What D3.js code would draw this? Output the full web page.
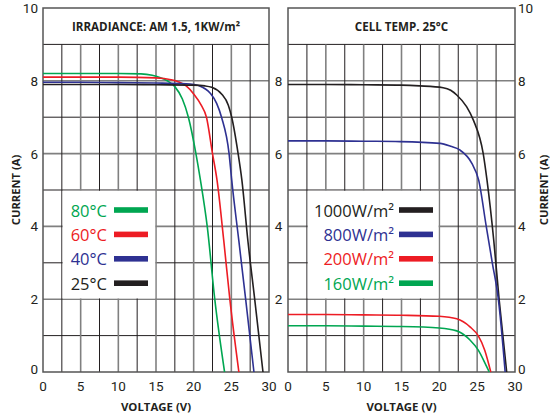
<!DOCTYPE html>
<html><head><meta charset="utf-8">
<script src="https://cdn.jsdelivr.net/npm/d3@7"></script>
<style>body{margin:0;background:#fff}svg{display:block}</style>
</head><body>
<svg id="chart" width="550" height="417"></svg>
<script>
// ---------- data ----------
const voltageTicks = [0, 5, 10, 15, 20, 25, 30];
const currentTicks = [0, 2, 4, 6, 8, 10];

// Left panel: irradiance AM 1.5, 1kW/m², various cell temperatures  [voltage, current]
const temp80 = [[0,8.2],[5,8.2],[10,8.2],[13,8.19],[14.5,8.15],[15.5,8.09],[16.5,8.0],[17.5,7.84],[18.5,7.5],[19.3,7.0],[20.3,6.0],[20.9,5.27],[21.8,4.0],[22.8,2.0],[24.1,0]];
const temp60 = [[0,8.1],[5,8.1],[10,8.1],[15,8.08],[17,8.03],[18,7.97],[19,7.86],[20,7.64],[21,7.33],[21.7,7.0],[22.5,6.0],[23.1,5.27],[24.0,3.6],[24.8,2.0],[26.0,0]];
const temp40 = [[0,7.96],[5,7.96],[10,7.95],[15,7.94],[19,7.92],[20,7.9],[20.8,7.86],[22.2,7.66],[23.05,7.38],[23.7,7.0],[24.7,6.0],[25.05,5.27],[26.0,3.6],[26.9,2.0],[28.0,0]];
const temp25 = [[0,7.9],[5,7.9],[10,7.9],[15,7.89],[20,7.88],[21.5,7.86],[22.4,7.82],[23.7,7.64],[24.6,7.33],[25.05,7.0],[25.9,6.0],[26.4,5.27],[27.2,3.6],[28.1,2.0],[29.2,0]];
const tempLabels = ["80°C", "60°C", "40°C", "25°C"];

// Right panel: cell temp 25°C, various irradiance levels  [voltage, current]
const irr1000 = [[0,7.9],[5,7.9],[10,7.89],[15,7.88],[17.4,7.86],[20.5,7.81],[21.5,7.74],[22.3,7.61],[23.6,7.29],[24.5,6.92],[25.8,6.0],[26.3,5.27],[27.2,3.6],[27.9,2.0],[28.9,0]];
const irr800  = [[0,6.35],[5,6.35],[10,6.34],[14.8,6.33],[20.1,6.28],[21.5,6.2],[22.7,6.1],[24.3,5.73],[25.2,5.27],[26.2,4.0],[27.0,3.0],[27.8,2.0],[28.7,0]];
const irr200  = [[0,1.58],[5,1.58],[10,1.57],[15,1.56],[20,1.53],[22.3,1.46],[24.05,1.24],[25.15,0.99],[26.0,0.6],[26.8,0]];
const irr160  = [[0,1.27],[5,1.27],[10,1.26],[15,1.25],[20,1.21],[22.3,1.13],[24.05,0.88],[25.15,0.6],[26.0,0.26],[26.6,0]];
const irrLabels = ["1000W/m²", "800W/m²", "200W/m²", "160W/m²"];

const headers = ["IRRADIANCE: AM 1.5, 1KW/m²", "CELL TEMP. 25°C"];

// ---------- styles ----------
const seriesColors = ["#00a651", "#ed1c24", "#2e3192", "#231f20"];
const irrColors = ["#231f20", "#2e3192", "#ed1c24", "#00a651"];
const dark = "#231f20", gray = "#808080";
const font = "'Open Sans', 'Noto Sans', sans-serif";
const tickFont = "Roboto, 'Open Sans', sans-serif";

const svg = d3.select("#chart");
const y = d3.scaleLinear().domain([0, 10]).range([372, 8]);

function panel(xRange, header, series, colors, labels, boxV, legendTextX, swatchX0, swatchX1) {
  const x = d3.scaleLinear().domain([0, 30]).range(xRange);
  const g = svg.append("g");

  // horizontal grid lines 1..9
  const hLines = d3.range(1, 10);
  g.selectAll(".h").data(hLines).enter().append("line")
    .attr("x1", x(0)).attr("x2", x(30))
    .attr("y1", d => y(d)).attr("y2", d => y(d))
    .attr("stroke", d => (d % 2 === 0 ? gray : dark))
    .attr("stroke-width", d => (d % 2 === 0 ? 1.6 : 1));
  // vertical grid lines every 2.5 from 0 to 9 A
  const vLines = d3.range(2.5, 30, 2.5);
  g.selectAll(".v").data(vLines).enter().append("line")
    .attr("x1", d => x(d)).attr("x2", d => x(d))
    .attr("y1", y(0)).attr("y2", y(9))
    .attr("stroke", d => (d % 5 === 0 ? gray : dark))
    .attr("stroke-width", d => (d % 5 === 0 ? 1.6 : 1));

  // legend box (a white cell block of the grid)
  g.append("rect")
    .attr("x", x(boxV[0]) + 0.8).attr("y", y(5) + 0.8)
    .attr("width", x(boxV[1]) - x(boxV[0]) - 1.6)
    .attr("height", y(2) - y(5) - 1.6)
    .attr("fill", "#fff");

  // frame
  g.append("rect")
    .attr("x", x(0)).attr("y", y(10))
    .attr("width", x(30) - x(0)).attr("height", y(0) - y(10))
    .attr("fill", "none").attr("stroke", "#555").attr("stroke-width", 1.5);

  // header
  g.append("text")
    .attr("x", (x(0) + x(30)) / 2).attr("y", y(9.5))
    .attr("text-anchor", "middle").attr("dominant-baseline", "central")
    .attr("font-family", font).attr("font-weight", "bold").attr("font-size", 11.6)
    .attr("fill", dark).text(header);

  // curves
  const line = d3.line().x(d => x(d[0])).y(d => y(d[1])).curve(d3.curveMonotoneX);
  series.forEach((s, i) => {
    g.append("path").datum(s).attr("d", line)
      .attr("fill", "none").attr("stroke", colors[i]).attr("stroke-width", 1.6);
  });

  // legend entries
  labels.forEach((lab, i) => {
    const ly = y(5) + 20 + i * 24.4;
    g.append("text").attr("x", legendTextX).attr("y", ly)
      .attr("text-anchor", "end").attr("dominant-baseline", "central")
      .attr("font-family", font).attr("font-size", 16.5)
      .attr("fill", colors[i]).text(lab);
    g.append("rect").attr("x", swatchX0).attr("y", ly - 2.8)
      .attr("width", swatchX1 - swatchX0).attr("height", 5.6)
      .attr("fill", colors[i]);
  });

  // x tick labels
  g.selectAll(".xt").data(voltageTicks).enter().append("text")
    .attr("x", d => x(d)).attr("y", 386)
    .attr("text-anchor", "middle").attr("dominant-baseline", "central")
    .attr("font-family", tickFont).attr("font-size", 13.5).attr("fill", dark)
    .text(d => d);
  // x axis title
  g.append("text")
    .attr("x", (x(0) + x(30)) / 2).attr("y", 406)
    .attr("text-anchor", "middle").attr("dominant-baseline", "central")
    .attr("font-family", font).attr("font-weight", "bold").attr("font-size", 11.4)
    .attr("fill", dark).text("VOLTAGE (V)");
  return x;
}

const xL = panel([43, 269], headers[0], [temp80, temp60, temp40, temp25], seriesColors, tempLabels,
  [2.5, 15], 107, 114, 148);
const xR = panel([288, 515], headers[1], [irr1000, irr800, irr200, irr160], irrColors, irrLabels,
  [2.5, 20], 394, 399, 433);

// y tick labels: left, middle, right
const yPos = d => (d === 0 ? y(0) - 3 : y(d));
const tickStyle = sel => sel.attr("dominant-baseline", "central")
  .attr("font-family", tickFont).attr("font-size", 13.5).attr("fill", dark).text(d => d);
svg.selectAll(".yl").data(currentTicks).enter().append("text")
  .attr("x", 38).attr("y", yPos).attr("text-anchor", "end").call(tickStyle);
svg.selectAll(".ym").data(currentTicks.filter(d => d > 0 && d < 10)).enter().append("text")
  .attr("x", 278.5).attr("y", yPos).attr("text-anchor", "middle").call(tickStyle);
svg.selectAll(".yr").data(currentTicks).enter().append("text")
  .attr("x", 518).attr("y", yPos).attr("text-anchor", "start").call(tickStyle);

// y axis titles
[15, 543].forEach(px => {
  svg.append("text")
    .attr("transform", `translate(${px},${y(5)}) rotate(-90)`)
    .attr("text-anchor", "middle").attr("dominant-baseline", "central")
    .attr("font-family", font).attr("font-weight", "bold").attr("font-size", 11.2)
    .attr("fill", dark).text("CURRENT (A)");
});
</script>
</body></html>
